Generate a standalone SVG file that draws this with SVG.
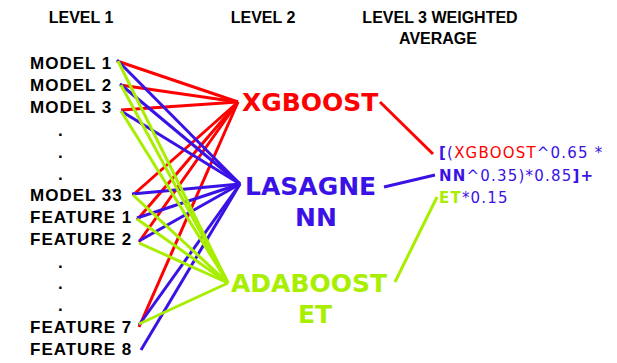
<svg xmlns="http://www.w3.org/2000/svg" width="617" height="363" viewBox="0 0 617 363">
  <style>
    .hdr { font-family: "Liberation Sans", Arial, sans-serif; font-weight: bold; font-size: 16px; fill: #000; text-anchor: middle; }
    .src { font-family: "Liberation Sans", Arial, sans-serif; font-weight: bold; font-size: 17px; letter-spacing: 1px; fill: #000; }
    .mid { font-family: "DejaVu Sans", Verdana, sans-serif; font-weight: bold; font-size: 25px; }
    .avg { font-family: "DejaVu Sans", Verdana, sans-serif; font-size: 15px; letter-spacing: 1.2px; fill: #3a12e6; }
    .b { font-weight: bold; }
    .red { fill: #ff0000; }
    .blue { fill: #3a12e6; }
    .green { fill: #a8ee00; }
    .lr { stroke: #ff0000; stroke-width: 3; fill: none; }
    .lb { stroke: #3a12e6; stroke-width: 3; fill: none; }
    .lg { stroke: #a8ee00; stroke-width: 3; fill: none; }
  </style>

  <rect width="617" height="363" fill="#ffffff"/>

  <!-- column headings -->
  <g id="headings">
    <text class="hdr" x="81" y="23">LEVEL 1</text>
    <text class="hdr" x="263" y="23">LEVEL 2</text>
    <text class="hdr" x="440" y="23">LEVEL 3 WEIGHTED</text>
    <text class="hdr" x="438" y="44">AVERAGE</text>
  </g>

  <!-- connectors: level 1 to level 2, then level 2 to the weighted average -->
  <g id="connectors">
    <!-- to XGBOOST -->
    <line class="lr" x1="117" y1="61" x2="238" y2="102"/>
    <line class="lr" x1="120" y1="85" x2="238" y2="102"/>
    <line class="lr" x1="121" y1="110" x2="238" y2="102"/>
    <line class="lr" x1="133" y1="195" x2="238" y2="102"/>
    <line class="lr" x1="137" y1="220" x2="238" y2="102"/>
    <line class="lr" x1="139" y1="242" x2="238" y2="102"/>
    <line class="lr" x1="139" y1="327" x2="238" y2="102"/>
    <!-- to LASAGNE NN -->
    <line class="lb" x1="117" y1="60" x2="240" y2="184"/>
    <line class="lb" x1="120" y1="84" x2="240" y2="184"/>
    <line class="lb" x1="121" y1="111" x2="240" y2="184"/>
    <line class="lb" x1="132" y1="194" x2="240" y2="184"/>
    <line class="lb" x1="137" y1="218" x2="240" y2="184"/>
    <line class="lb" x1="139" y1="241" x2="240" y2="184"/>
    <line class="lb" x1="139" y1="325" x2="240" y2="184"/>
    <line class="lb" x1="141" y1="350" x2="240" y2="184"/>
    <!-- to ADABOOST ET -->
    <line class="lg" x1="118" y1="61" x2="228" y2="283"/>
    <line class="lg" x1="121" y1="85" x2="228" y2="283"/>
    <line class="lg" x1="121" y1="111" x2="228" y2="283"/>
    <line class="lg" x1="133" y1="195" x2="228" y2="283"/>
    <line class="lg" x1="137" y1="219" x2="228" y2="283"/>
    <line class="lg" x1="139" y1="243" x2="228" y2="283"/>
    <line class="lg" x1="139" y1="324" x2="228" y2="283"/>
    <!-- to the weighted average -->
    <line class="lr" x1="380" y1="102" x2="433" y2="154"/>
    <line class="lb" x1="384" y1="187" x2="435" y2="175"/>
    <line class="lg" x1="395" y1="282" x2="437" y2="197"/>
  </g>

  <!-- level 1 inputs -->
  <g id="model-1"><text class="src" x="30" y="69">MODEL 1</text></g>
  <g id="model-2"><text class="src" x="30" y="91">MODEL 2</text></g>
  <g id="model-3"><text class="src" x="30" y="113">MODEL 3</text></g>
  <g id="model-dots">
    <text class="src" x="58" y="136">.</text>
    <text class="src" x="58" y="158">.</text>
    <text class="src" x="58" y="180">.</text>
  </g>
  <g id="model-33"><text class="src" x="30" y="201">MODEL 33</text></g>
  <g id="feature-1"><text class="src" x="30" y="223">FEATURE 1</text></g>
  <g id="feature-2"><text class="src" x="30" y="245">FEATURE 2</text></g>
  <g id="feature-dots">
    <text class="src" x="58" y="268">.</text>
    <text class="src" x="58" y="289">.</text>
    <text class="src" x="58" y="311">.</text>
  </g>
  <g id="feature-7"><text class="src" x="30" y="333">FEATURE 7</text></g>
  <g id="feature-8"><text class="src" x="30" y="355">FEATURE 8</text></g>

  <!-- level 2 models -->
  <g id="xgboost"><text class="mid red" x="242" y="111">XGBOOST</text></g>
  <g id="lasagne-nn">
    <text class="mid blue" x="245" y="195">LASAGNE</text>
    <text class="mid blue" x="295" y="226">NN</text>
  </g>
  <g id="adaboost-et">
    <text class="mid green" x="231" y="292">ADABOOST</text>
    <text class="mid green" x="298" y="323">ET</text>
  </g>

  <!-- level 3 weighted average -->
  <g id="weighted-average">
    <text class="avg" x="439" y="158"><tspan class="b">[</tspan>(<tspan class="red">XGBOOST</tspan>^0.65 *</text>
    <text class="avg" x="439" y="181"><tspan class="b">NN</tspan>^0.35)*0.85<tspan class="b">]+</tspan></text>
    <text class="avg" x="439" y="203"><tspan class="b green">ET</tspan>*0.15</text>
  </g>
</svg>
